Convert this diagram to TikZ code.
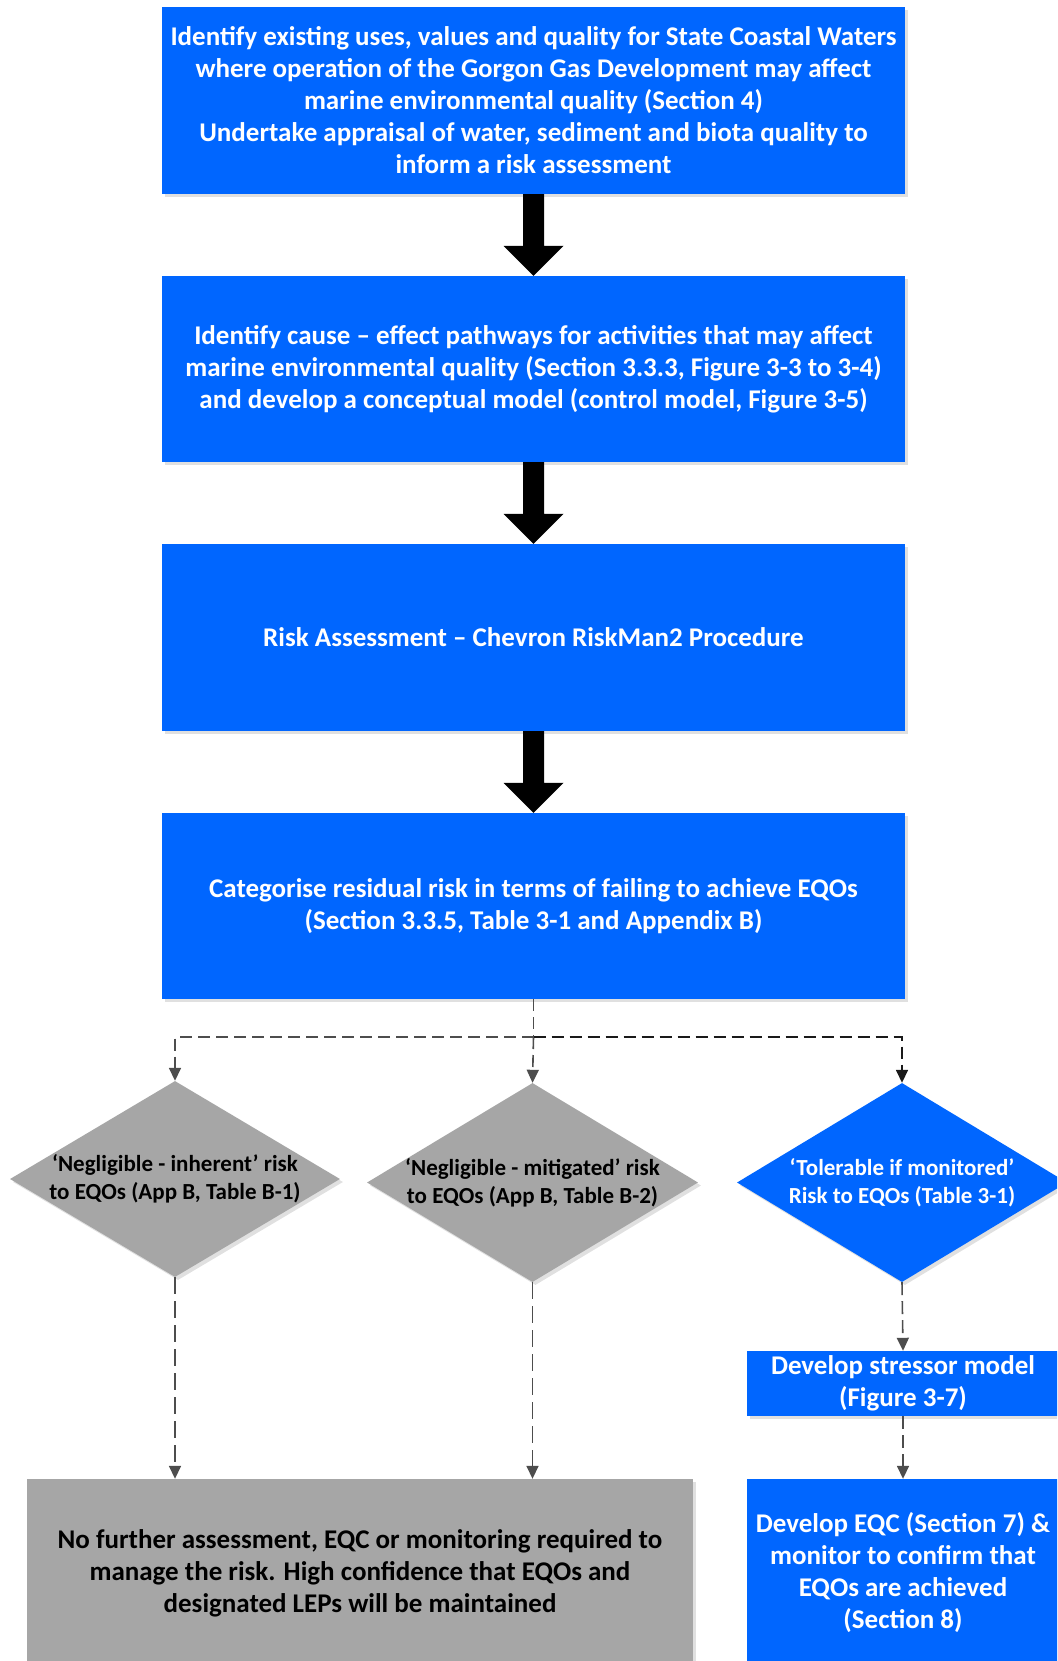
\documentclass[tikz,border=0pt]{standalone}
\usepackage{fontspec}
\setmainfont{Carlito}
\usetikzlibrary{shapes.geometric,arrows.meta,calc,shadows}

\definecolor{eqblue}{HTML}{0066FF}
\definecolor{eqgrey}{HTML}{A6A6A6}
\definecolor{linegrey}{HTML}{4D4D4D}
\definecolor{linedark}{HTML}{1A1A1A}

% thick black block arrow from the bottom of one box to the top of the next
\newcommand\blockarrow[2]{%
  \fill[black] ($(#1.south)+(-10.5,0)$) -- ($(#1.south)+(10.5,0)$)
    -- ($(#2.north)+(10.5,-30)$) -- ($(#2.north)+(30,-30)$)
    -- (#2.north)
    -- ($(#2.north)+(-30,-30)$) -- ($(#2.north)+(-10.5,-30)$) -- cycle;}

\tikzset{
  boxtext/.style={font=\bfseries\fontsize{27}{32}\selectfont, align=center},
  difftext/.style={font=\bfseries\fontsize{23}{28}\selectfont, align=center},
  softshadow/.style={drop shadow={shadow xshift=3pt, shadow yshift=-3pt, fill=black, opacity=0.12}},
  bluebox/.style={rectangle, fill=eqblue, text=white, inner sep=0pt, softshadow, boxtext},
  greybox/.style={rectangle, fill=eqgrey, text=black, inner sep=0pt, softshadow, boxtext},
  bluedia/.style={diamond, fill=eqblue, inner sep=0pt, softshadow},
  greydia/.style={diamond, fill=eqgrey, inner sep=0pt, softshadow},
  flowline/.style={line width=1.6pt, dash pattern=on 12pt off 6pt},
  downline/.style={line width=1.6pt, dash pattern=on 17pt off 7pt},
  tip/.style={-{Triangle[length=13pt,width=12pt]}}
}

\begin{document}
\begin{tikzpicture}[x=1pt, y=-1pt]
\useasboundingbox (0,0) rectangle (1057,1661);
\clip (0,0) rectangle (1057,1661);
\fill[white] (0,0) rectangle (1057,1661);

% main column
\node[bluebox, minimum width=743pt, minimum height=187pt] (b1) at (533.5,100.5)
  {Identify existing uses, values and quality for State Coastal Waters\\
   where operation of the Gorgon Gas Development may affect\\
   marine environmental quality (Section 4)\\
   Undertake appraisal of water, sediment and biota quality to\\
   inform a risk assessment};
\node[bluebox, minimum width=743pt, minimum height=186pt] (b2) at (533.5,369)
  {Identify cause -- effect pathways for activities that may affect\\
   marine environmental quality (Section 3.3.3, Figure 3-3 to 3-4)\\
   and develop a conceptual model (control model, Figure 3-5)};
\node[bluebox, minimum width=743pt, minimum height=187pt] (b3) at (533.5,637.5)
  {Risk Assessment -- Chevron RiskMan2 Procedure};
\node[bluebox, minimum width=743pt, minimum height=186pt] (b4) at (533.5,906)
  {Categorise residual risk in terms of failing to achieve EQOs\\
   (Section 3.3.5, Table 3-1 and Appendix B)};

\blockarrow{b1}{b2}
\blockarrow{b2}{b3}
\blockarrow{b3}{b4}

% risk categories
\node[greydia, minimum width=330pt, minimum height=196pt] (d1) at (175,1179) {};
\node[difftext, text=black] (t1) at (d1.center) {‘Negligible - inherent’ risk\\to EQOs (App B, Table B-1)};
\node[greydia, minimum width=331pt, minimum height=199pt] (d2) at (532.5,1182.5) {};
\node[difftext, text=black] (t2) at (d2.center) {‘Negligible - mitigated’ risk\\to EQOs (App B, Table B-2)};
\node[bluedia, minimum width=330pt, minimum height=199pt] (d3) at (902,1182.5) {};
\node[difftext, text=white] (t3) at (d3.center) {‘Tolerable if monitored’\\Risk to EQOs (Table 3-1)};

% outcomes
\node[greybox, minimum width=666pt, minimum height=188pt] (g) at (360,1573)
  {No further assessment, EQC or monitoring required to\\
   manage the risk. High confidence that EQOs and\\
   designated LEPs will be maintained};
\node[bluebox, minimum width=312pt, minimum height=65pt] (s) at (903,1383.5)
  {Develop stressor model\\(Figure 3-7)};
\node[bluebox, minimum width=312pt, minimum height=188pt] (e) at (903,1573)
  {Develop EQC (Section 7) \&\\monitor to confirm that\\EQOs are achieved\\(Section 8)};

% dashed branching connectors
\coordinate (split) at (533.5,1037);
\draw[flowline, linegrey] (b4.south) -- (split);
\draw[flowline, linegrey, tip] (split) -| (d1.north);
\draw[flowline, linegrey, tip] (split) -- (d2.north);
\draw[flowline, linedark, tip] (split) -| (d3.north);

\draw[downline, linegrey, tip] (d1.south) -- (d1.south |- g.north);
\draw[downline, linegrey, tip] (d2.south) -- (d2.south |- g.north);
\draw[downline, linegrey, tip, dash pattern=on 13pt off 6pt] (d3.south) -- (s.north);
\draw[downline, linegrey, tip, dash pattern=on 13pt off 6pt] (s.south) -- (e.north);
\end{tikzpicture}
\end{document}
